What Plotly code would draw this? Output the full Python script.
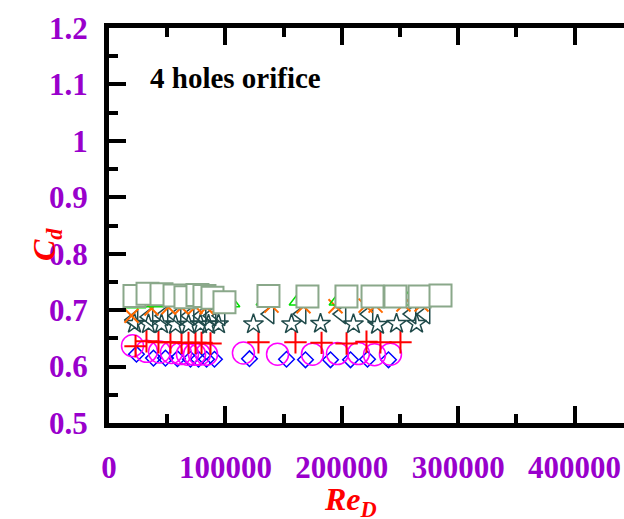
import plotly.graph_objects as go

# ---- data (Re_D, Cd) ----
sq_re = [21900, 33100, 45100, 56300, 65700, 76000, 82000, 88900, 99200,
         137000, 170500, 204000, 226400, 246100, 266800, 284800]
sq_cd = [0.725, 0.729, 0.728, 0.726, 0.723, 0.727, 0.725, 0.722, 0.714,
         0.725, 0.724, 0.724, 0.724, 0.724, 0.724, 0.726]

tri_re = [22800, 38200, 48500, 59700, 72600, 81200, 91500, 103500,
          135300, 163700, 198000, 227200, 257300, 277000]
tri_cd = [0.712, 0.714, 0.715, 0.715, 0.715, 0.715, 0.715, 0.714,
          0.717, 0.717, 0.717, 0.716, 0.717, 0.716]

x_re = [19300, 36500, 51100, 62300, 74300, 83800, 94100,
        139600, 167100, 194600, 220400, 229000, 253000, 268500]
x_cd = [0.690, 0.703, 0.705, 0.705, 0.706, 0.705, 0.707,
        0.708, 0.707, 0.707, 0.708, 0.708, 0.710, 0.710]

lt_re = [21000, 33900, 46800, 58000, 69200, 79500, 88100, 95800,
         137900, 165400, 199700, 222900, 259900, 271900]
lt_cd = [0.683, 0.688, 0.690, 0.690, 0.690, 0.690, 0.690, 0.690,
         0.693, 0.693, 0.693, 0.693, 0.693, 0.693]

st_re = [21900, 33900, 45100, 57100, 68300, 78600, 85500, 94100,
         124100, 156800, 181700, 210000, 230700, 247000, 264200]
st_cd = [0.676, 0.675, 0.675, 0.674, 0.674, 0.675, 0.674, 0.675,
         0.675, 0.675, 0.676, 0.675, 0.674, 0.676, 0.676]

pl_re = [22800, 32200, 42500, 52800, 62300, 68300, 74300, 79500, 87200,
         128400, 160200, 182600, 204100, 221200, 233200, 250400]
pl_cd = [0.636, 0.645, 0.643, 0.643, 0.642, 0.642, 0.642, 0.642, 0.641,
         0.643, 0.643, 0.642, 0.641, 0.644, 0.643, 0.643]

ci_re = [20200, 32200, 43400, 53700, 61400, 67400, 73500, 77700, 83800,
         115500, 144800, 174800, 196300, 214300, 228100, 241800]
ci_cd = [0.637, 0.627, 0.626, 0.625, 0.623, 0.622, 0.622, 0.622, 0.622,
         0.624, 0.622, 0.622, 0.623, 0.623, 0.621, 0.622]

di_re = [23600, 38200, 48500, 58800, 70000, 76900, 83800, 90600,
         120700, 152500, 168800, 190300, 207500, 222100, 240100]
di_cd = [0.622, 0.615, 0.615, 0.614, 0.613, 0.613, 0.613, 0.613,
         0.614, 0.613, 0.612, 0.612, 0.612, 0.613, 0.612]

x_tickvals = [0, 100000, 200000, 300000, 400000]
x_ticktext = ["0", "100000", "200000", "300000", "400000"]
y_tickvals = [0.5, 0.6, 0.7, 0.8, 0.9, 1.0, 1.1, 1.2]

series = [
    (di_re, di_cd, "diamond-open", "#0000FF", 12, 1.5, None),
    (ci_re, ci_cd, "circle-open", "#FF00FF", 22, 1.5, None),
    (pl_re, pl_cd, "cross-thin-open", "#FF0000", 16, 2.0, None),
    (st_re, st_cd, "star-open", "#1F4A4A", 15, 1.5, None),
    (lt_re, lt_cd, "triangle-left-open", "#1F4A4A", 17, 1.5, None),
    (x_re, x_cd, "x-thin-open", "#FF6A00", 14, 2.0, None),
    (tri_re, tri_cd, "triangle-up-open", "#00E000", 18, 1.5, None),
    (sq_re, sq_cd, "square", "#8AA88A", 22, 2.0, "white"),
]

fig = go.Figure()
for xs, ys, sym, col, size, lw, fill in series:
    marker = dict(symbol=sym, size=size, line=dict(color=col, width=lw),
                  color=fill if fill is not None else col)
    fig.add_trace(go.Scatter(x=xs, y=ys, mode="markers", marker=marker,
                             showlegend=False, hoverinfo="skip"))

tickfont = dict(family="Liberation Serif", size=31, color="#9900CC", weight="bold")

W, H = 624, 519
ML, MT, MB = 109, 28, 96
pw, ph = W - ML, H - MT - MB

fig.update_xaxes(range=[0, (pw / 116.4) * 100000], tickvals=x_tickvals, ticktext=x_ticktext,
                 ticks="inside", ticklen=17, tickwidth=4, tickcolor="black",
                 minor=dict(dtick=50000, tick0=0, ticks="inside", ticklen=9,
                            tickwidth=4, tickcolor="black"),
                 showline=True, linewidth=5, linecolor="black", mirror="allticks",
                 showgrid=False, zeroline=False, tickfont=tickfont,
                 ticklabelstandoff=13, automargin=False)
fig.update_yaxes(range=[0.5, 1.2], tickvals=y_tickvals,
                 ticks="inside", ticklen=17, tickwidth=4, tickcolor="black",
                 minor=dict(dtick=0.05, tick0=0.5, ticks="inside", ticklen=9,
                            tickwidth=4, tickcolor="black"),
                 showline=True, linewidth=5, linecolor="black",
                 showgrid=False, zeroline=False, tickfont=tickfont,
                 ticklabelstandoff=10, automargin=False)


def px_to_paper(px, py):
    return (px - ML) / pw, (H - MB - py) / ph


ax, ay = px_to_paper(148, 78)
fig.add_annotation(x=ax, y=ay, xref="paper", yref="paper", xanchor="left",
                   yanchor="middle", showarrow=False,
                   text="<b>4 holes orifice</b>",
                   font=dict(family="Liberation Serif", size=29, color="black"))
cx, cy = px_to_paper(46, 245)
fig.add_annotation(x=cx, y=cy, xref="paper", yref="paper", showarrow=False,
                   xanchor="center", yanchor="middle",
                   text="<b><i>C<sub>d</sub></i></b>", textangle=-90,
                   font=dict(family="Liberation Serif", size=32, color="#FF0000"))
rx, ry = px_to_paper(350, 501)
fig.add_annotation(x=rx, y=ry, xref="paper", yref="paper", showarrow=False,
                   xanchor="center", yanchor="middle",
                   text="<b><i>Re<sub>D</sub></i></b>",
                   font=dict(family="Liberation Serif", size=32, color="#FF0000"))

fig.update_layout(width=W, height=H,
                  margin=dict(l=ML, r=0, t=MT, b=MB, autoexpand=False),
                  plot_bgcolor="white", paper_bgcolor="white")

fig.write_html("out.html", config={"displayModeBar": False},
               post_script="document.body.style.margin='0';document.body.style.overflow='hidden';")
